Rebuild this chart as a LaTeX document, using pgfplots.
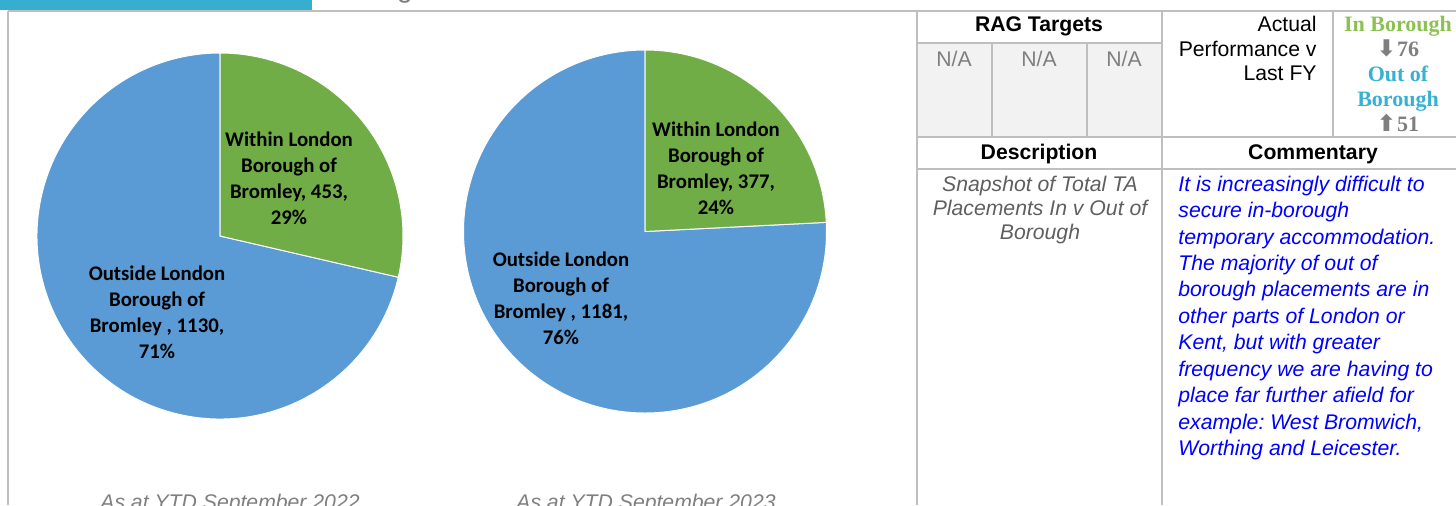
\documentclass[border=0pt]{standalone}
\usepackage{pgfplots}
\pgfplotsset{compat=1.18}
\usepackage{fontspec}
\setmainfont{Liberation Sans}
\newfontfamily\carlito{Carlito}
\newfontfamily\libserif{Liberation Serif}
\newfontfamily\dejavu{DejaVu Sans}
\frenchspacing

\definecolor{pieBlue}{HTML}{5B9BD5}
\definecolor{pieGreen}{HTML}{70AD47}
\definecolor{barTeal}{HTML}{35AECF}
\definecolor{gridGrey}{HTML}{BFBFBF}
\definecolor{cellGrey}{HTML}{F2F2F2}
\definecolor{inGreen}{HTML}{8CC152}
\definecolor{outTeal}{HTML}{36B1D3}
\definecolor{numGrey}{HTML}{7F7F7F}
\definecolor{descGrey}{HTML}{5F5F5F}

% placements: within / outside London Borough of Bromley
\def\inA{453}  \def\outA{1130}  % YTD September 2022
\def\inB{377}  \def\outB{1181}  % YTD September 2023
\pgfmathsetmacro\angA{360*(\inA/(\inA+\outA))}
\pgfmathsetmacro\angB{360*(\inB/(\inB+\outB))}

\pgfplotsset{pie/.style={hide axis, scale only axis, anchor=center, clip=false,
    xmin=-1, xmax=1, ymin=-1, ymax=1}}

\newcommand\tf{\fontsize{10.6}{12.2}\selectfont}
\newcommand\lf{\fontsize{10.4}{13}\selectfont\carlito\bfseries}
\newcommand\serf{\fontsize{11}{12}\selectfont\libserif\bfseries}
\newcommand\arr[1]{{\dejavu\fontsize{11.5}{12}\selectfont #1}\hspace{0.5pt}}

\begin{document}
\begin{tikzpicture}
\clip (0,0) rectangle (728pt,-252.5pt);

% pie 2022
\begin{axis}[pie, at={(110pt,-118pt)}, width=183pt, height=183pt]
  \filldraw[pieBlue, draw=white, line width=0.5pt] (axis cs:0,0) -- (axis cs:{cos(90-\angA)},{sin(90-\angA)})
    arc[start angle={90-\angA}, end angle=-270, radius=91.5pt] -- cycle;
  \filldraw[pieGreen, draw=white, line width=0.5pt] (axis cs:0,0) -- (axis cs:0,1)
    arc[start angle=90, end angle={90-\angA}, radius=91.5pt] -- cycle;
\end{axis}

% pie 2023
\begin{axis}[pie, at={(322.5pt,-115.75pt)}, width=181.5pt, height=181.5pt]
  \filldraw[pieBlue, draw=white, line width=0.5pt] (axis cs:0,0) -- (axis cs:{cos(90-\angB)},{sin(90-\angB)})
    arc[start angle={90-\angB}, end angle=-270, radius=90.75pt] -- cycle;
  \filldraw[pieGreen, draw=white, line width=0.5pt] (axis cs:0,0) -- (axis cs:0,1)
    arc[start angle=90, end angle={90-\angB}, radius=90.75pt] -- cycle;
\end{axis}

\begin{scope}[x=0.5pt, y=-0.5pt]
  % pie labels
  \node[align=center, font=\lf] at (289,178) {Within London\\Borough of\\Bromley, 453,\\29\%};
  \node[align=center, font=\lf] at (157,312) {Outside London\\Borough of\\Bromley , 1130,\\71\%};
  \node[align=center, font=\lf] at (716,168) {Within London\\Borough of\\Bromley, 377,\\24\%};
  \node[align=center, font=\lf] at (561,298) {Outside London\\Borough of\\Bromley , 1181,\\76\%};

  % captions (cut by the page edge, as in the source)
  \node[anchor=base, inner sep=0, font=\tf\itshape, text=numGrey] at (230,509) {As at YTD September 2022};
  \node[anchor=base, inner sep=0, font=\tf\itshape, text=numGrey] at (646,509) {As at YTD September 2023};

  % header strip
  \fill[barTeal] (0,0) rectangle (312,9.5);
  \node[anchor=base, inner sep=0, font=\fontsize{14}{16}\selectfont, text=numGrey] at (405,-3) {g};

  % table
  \fill[cellGrey] (917,43) rectangle (1162,137);
  \begin{scope}[gridGrey, line width=1pt]
    \draw (8,11) -- (1456,11);
    \draw (8,11) -- (8,505);
    \draw (917,11) -- (917,505);
    \draw (1162,11) -- (1162,505);
    \draw (1333,11) -- (1333,137);
    \draw (917,43) -- (1162,43);
    \draw (992,43) -- (992,137);
    \draw (1087,43) -- (1087,137);
    \draw (917,137) -- (1456,137);
    \draw (917,169) -- (1456,169);
  \end{scope}

  \begin{scope}[every node/.style={inner sep=0, anchor=base, font=\tf}]
    \node[font=\tf\bfseries] at (1039,31.5) {RAG Targets};
    \node[text=numGrey] at (954,66.5) {N/A};
    \node[text=numGrey] at (1039,66.5) {N/A};
    \node[text=numGrey] at (1124,66.5) {N/A};
    \node[anchor=base east] at (1317,31.5) {Actual};
    \node[anchor=base east] at (1317,56) {Performance v};
    \node[anchor=base east] at (1317,80.5) {Last FY};

    \node[font=\serf, text=inGreen] at (1398,31) {In Borough};
    \node[font=\serf, text=numGrey] at (1398,56) {\arr{⬇}76};
    \node[font=\serf, text=outTeal] at (1398,81) {Out of};
    \node[font=\serf, text=outTeal] at (1398,106) {Borough};
    \node[font=\serf, text=numGrey] at (1398,131) {\arr{⬆}51};

    \node[font=\tf\bfseries] at (1039,159) {Description};
    \node[font=\tf\bfseries] at (1313,159) {Commentary};

    \node[font=\tf\itshape, text=descGrey] at (1040,191) {Snapshot of Total TA};
    \node[font=\tf\itshape, text=descGrey] at (1040,215.4) {Placements In v Out of};
    \node[font=\tf\itshape, text=descGrey] at (1040,239.8) {Borough};
  \end{scope}

  \begin{scope}[every node/.style={inner sep=0, anchor=base west, font=\tf\itshape, text=blue}]
    \node at (1178,191) {It is increasingly difficult to};
    \node at (1178,217.5) {secure in-borough};
    \node at (1178,244) {temporary accommodation.};
    \node at (1178,270.4) {The majority of out of};
    \node at (1178,296.9) {borough placements are in};
    \node at (1178,323.4) {other parts of London or};
    \node at (1178,349.8) {Kent, but with greater};
    \node at (1178,376.3) {frequency we are having to};
    \node at (1178,402.8) {place far further afield for};
    \node at (1178,429.2) {example: West Bromwich,};
    \node at (1178,455.7) {Worthing and Leicester.};
  \end{scope}
\end{scope}
\end{tikzpicture}
\end{document}
